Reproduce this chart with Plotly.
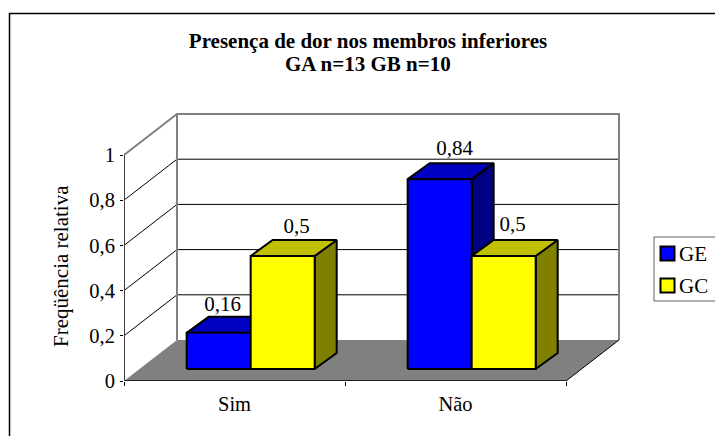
import plotly.graph_objects as go

# ---- data ----
categories = ["Sim", "Não"]
series_names = ["GE", "GC"]
ge_values = [0.16, 0.84]
gc_values = [0.5, 0.5]
ge_labels = ["0,16", "0,84"]
gc_labels = ["0,5", "0,5"]
y_ticks = [0, 0.2, 0.4, 0.6, 0.8, 1]
y_tick_labels = ["0", "0,2", "0,4", "0,6", "0,8", "1"]
title_line1 = "<b>Presença de dor nos membros inferiores</b>"
title_line2 = "<b>GA n=13 GB n=10</b>"
y_title = "Freqüência relativa"

# ---- layout constants (pixels of the 715x436 page) ----
W, H = 715, 436
L, R, T, B = 124, 622, 112, 381
PX_X = 221.0   # pixels per category
PX_Y = 226.0   # pixels per unit of value
WALL_DX, WALL_DY = 53 / PX_X, 41 / PX_Y
BAR_DX, BAR_DY = 22 / PX_X, 16 / PX_Y
BAR_D0 = 12 / 41
GAP = 0.2134
BAR_W = 0.2896
FONT = "Liberation Serif"
FS = 20.5
TS = 21
GREY = "#808080"

colors = {
    "GE": ("#0000FF", "#0000C0", "#000080"),
    "GC": ("#FFFF00", "#C0C000", "#808000"),
}
# fine placement of the value labels, in pixels, per category
label_shift_x = {"GE": (4, 15), "GC": (14, 9)}
label_shift_y = {"GE": (1, 3), "GC": (2, 4)}


def px(x):
    return (x - L) / (R - L)


def py(y):
    return (B - y) / (B - T)


fig = go.Figure()


def poly(xs, ys, fill=None, line=None, width=0):
    fig.add_trace(go.Scatter(
        x=xs, y=ys, mode="lines", showlegend=False, hoverinfo="skip",
        cliponaxis=False,
        fill="toself" if fill else "none", fillcolor=fill,
        line=dict(color=line or "rgba(0,0,0,0)", width=width),
    ))


xmax = len(categories)
# floor
poly([0, xmax, xmax + WALL_DX, WALL_DX, 0], [0, 0, WALL_DY, WALL_DY, 0], fill=GREY)
# gridlines on side wall and back wall
for v in y_ticks[1:-1]:
    poly([0, WALL_DX, xmax + WALL_DX], [v, v + WALL_DY, v + WALL_DY], line="#000000", width=1)
# wall outline
poly([0, WALL_DX, xmax + WALL_DX, xmax + WALL_DX],
     [1, 1 + WALL_DY, 1 + WALL_DY, WALL_DY], line=GREY, width=2)
poly([WALL_DX, WALL_DX], [WALL_DY, 1 + WALL_DY], line=GREY, width=2)
# floor right edge and axes
poly([xmax, xmax + WALL_DX], [0, WALL_DY], line="#000000", width=1)
poly([0, xmax], [0, 0], line="#000000", width=1.5)
poly([0, 0], [0, 1], line="#404040", width=2)


def bar(i, j, value, name):
    front, top, side = colors[name]
    x0 = i + GAP + j * BAR_W + BAR_D0 * WALL_DX
    x1 = x0 + BAR_W
    y0 = BAR_D0 * WALL_DY
    y1 = y0 + value
    poly([x1, x1 + BAR_DX, x1 + BAR_DX, x1, x1],
         [y0, y0 + BAR_DY, y1 + BAR_DY, y1, y0], fill=side, line="#000000", width=2)
    poly([x0, x0 + BAR_DX, x1 + BAR_DX, x1, x0],
         [y1, y1 + BAR_DY, y1 + BAR_DY, y1, y1], fill=top, line="#000000", width=2)
    poly([x0, x1, x1, x0, x0], [y0, y0, y1, y1, y0], fill=front, line="#000000", width=2)


def value_label(i, j, value, text, name):
    x0 = i + GAP + j * BAR_W + BAR_D0 * WALL_DX
    y1 = BAR_D0 * WALL_DY + value + BAR_DY
    fig.add_trace(go.Scatter(
        x=[x0 + BAR_W / 2 + label_shift_x[name][i] / PX_X],
        y=[y1 + label_shift_y[name][i] / PX_Y], mode="text", text=[text],
        textposition="top center",
        textfont=dict(family=FONT, size=TS, color="#000000"),
        showlegend=False, hoverinfo="skip", cliponaxis=False,
    ))


for i in range(len(categories)):
    bar(i, 0, ge_values[i], "GE")
    bar(i, 1, gc_values[i], "GC")
for i in range(len(categories)):
    value_label(i, 0, ge_values[i], ge_labels[i], "GE")
    value_label(i, 1, gc_values[i], gc_labels[i], "GC")

# frame (runs off the page on the right and at the bottom)
shapes = [
    dict(type="rect", xref="paper", yref="paper",
         x0=px(9.5), x1=px(W + 20), y0=py(H + 20), y1=py(13.5),
         line=dict(color="#000000", width=1.5), layer="below"),
    # legend box
    dict(type="rect", xref="paper", yref="paper",
         x0=px(654), x1=px(W + 10), y0=py(301), y1=py(237),
         line=dict(color="#606060", width=1), fillcolor="#FFFFFF"),
]
annotations = [
    dict(xref="paper", yref="paper", x=px(368), y=py(64), text=title_line2, showarrow=False,
         xanchor="center", yanchor="middle", font=dict(family=FONT, size=TS, color="#000000")),
    dict(xref="paper", yref="paper", x=px(61), y=py(266), text=y_title, showarrow=False,
         textangle=-90, xanchor="center", yanchor="middle",
         font=dict(family=FONT, size=TS, color="#000000")),
]
for k, (name, cy) in enumerate(zip(series_names, [253.5, 285.5])):
    shapes.append(dict(type="rect", xref="paper", yref="paper",
                       x0=px(660.5), x1=px(674.5), y0=py(cy + 7), y1=py(cy - 7),
                       line=dict(color="#000000", width=2), fillcolor=colors[name][0]))
    annotations.append(dict(xref="paper", yref="paper", x=px(679), y=py(cy),
                            text=name, showarrow=False, xanchor="left", yanchor="middle",
                            xshift=-2,
                            font=dict(family=FONT, size=TS, color="#000000")))

fig.update_layout(
    width=W, height=H, autosize=False,
    margin=dict(l=L, r=W - R, t=T, b=H - B, pad=0, autoexpand=False),
    paper_bgcolor="#FFFFFF", plot_bgcolor="rgba(0,0,0,0)",
    showlegend=False,
    shapes=shapes, annotations=annotations,
    font=dict(family=FONT, size=FS, color="#000000"),
    title=dict(text=title_line1, x=368 / W, xanchor="center",
               y=1 - 41 / H, yanchor="middle", font=dict(family=FONT, size=TS, color="#000000")),
    xaxis=dict(
        range=[0, (R - L) / PX_X], showgrid=False, zeroline=False, showline=False,
        tickmode="array",
        tickvals=[i + 0.5 for i in range(len(categories))], ticktext=categories,
        ticks="", ticklabelstandoff=8, tickfont=dict(family=FONT, size=FS),
        minor=dict(tickmode="array", tickvals=list(range(len(categories) + 1)),
                   ticks="outside", ticklen=4, tickwidth=1, tickcolor="#000000", showgrid=False),
    ),
    yaxis=dict(
        range=[0, (B - T) / PX_Y], showgrid=False, zeroline=False, showline=False,
        tickmode="array", tickvals=y_ticks, ticktext=y_tick_labels,
        ticks="outside", ticklen=3, tickwidth=1, tickcolor="#000000",
        ticklabelstandoff=1, tickfont=dict(family=FONT, size=FS),
    ),
)

fig.write_html("out.html", config=dict(displayModeBar=False),
               post_script="document.body.style.margin='0';")
